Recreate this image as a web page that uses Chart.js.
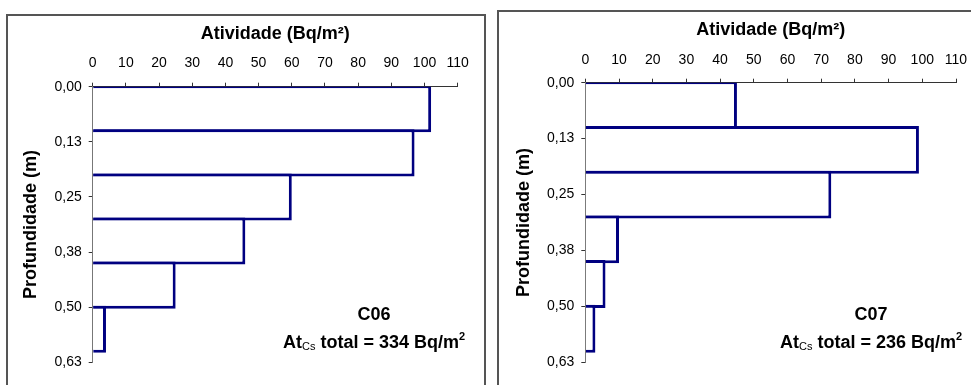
<!DOCTYPE html>
<html>
<head>
<meta charset="utf-8">
<script src="https://cdn.jsdelivr.net/npm/chart.js@4.4.1/dist/chart.umd.min.js"></script>
<style>
  html, body { margin: 0; padding: 0; background: #fff; width: 971px; height: 385px; overflow: hidden; }
  .panel { position: absolute; border: 2px solid #555; overflow: hidden; background: #fff; }
  .panel canvas { display: block; }
  .note { position: absolute; width: 300px; text-align: center; white-space: nowrap;
          font-family: "Liberation Sans", Arial, sans-serif; font-weight: bold;
          font-size: 18px; line-height: 20px; color: #000; }
  .note .sub { font-size: 11px; font-weight: normal; position: relative; top: 2px; }
  .note .sup { font-size: 11px; position: relative; top: -8px; }
</style>
</head>
<body>
<div class="panel" style="left:6px; top:14px; width:476px; height:380px;">
  <canvas id="c06" width="476" height="380"></canvas>
</div>
<div class="panel" style="left:497px; top:10px; width:490px; height:380px;">
  <canvas id="c07" width="490" height="380"></canvas>
</div>

<div class="note" style="left:224px; top:304px;">C06</div>
<div class="note" style="left:224px; top:332px;">At<span class="sub">Cs</span> total = 334 Bq/m<span class="sup">2</span></div>
<div class="note" style="left:721px; top:304px;">C07</div>
<div class="note" style="left:721px; top:332px;">At<span class="sub">Cs</span> total = 236 Bq/m<span class="sup">2</span></div>

<script>
// Soil layers (depth in m) sampled in each core
const layerTop    = [0.0, 0.1, 0.2, 0.3, 0.4, 0.5];
const layerBottom = [0.1, 0.2, 0.3, 0.4, 0.5, 0.6];

// 137Cs activity per layer (Bq/m²)
const activityC06 = [102, 97, 60, 46, 25, 4];
const activityC07 = [45, 99, 73, 10, 6, 3];

// Axis ticks
const depthTicks = [0, 0.125, 0.25, 0.375, 0.5, 0.625];
const depthTickLabels = ['0,00', '0,13', '0,25', '0,38', '0,50', '0,63'];
const activityTicks = [0, 10, 20, 30, 40, 50, 60, 70, 80, 90, 100, 110];

const FONT = '"Liberation Sans", Arial, sans-serif';
const NAVY = '#000080';

function profileChart(canvasId, values, g) {
  return new Chart(document.getElementById(canvasId), {
    type: 'bar',
    data: {
      datasets: [{
        data: values.map((v, i) => ({ x: v, y: (layerTop[i] + layerBottom[i]) / 2 })),
        backgroundColor: '#ffffff',
        borderColor: NAVY,
        borderWidth: 3,
        borderSkipped: 'start',
        // bars overlap by half a border so neighbouring outlines merge into one line
        barPercentage: 1.068,
        categoryPercentage: 1,
        clip: 0
      }]
    },
    options: {
      indexAxis: 'y',
      responsive: false,
      animation: false,
      events: [],
      layout: { padding: { left: 0, top: 0, right: g.padRight, bottom: g.padBottom } },
      plugins: { legend: { display: false }, tooltip: { enabled: false }, title: { display: false } },
      scales: {
        x: {
          type: 'linear',
          position: 'top',
          min: 0,
          max: 110,
          afterBuildTicks: (s) => { s.ticks = activityTicks.map(v => ({ value: v })); },
          afterFit: (s) => { s.height = g.top; },
          ticks: {
            autoSkip: false, maxRotation: 0, color: '#000', padding: g.xTickPad,
            font: { family: FONT, size: 14 },
            callback: (v, i) => String(activityTicks[i])
          },
          grid: { drawOnChartArea: false, drawTicks: true, tickLength: 4, color: '#333', lineWidth: 1 },
          border: { display: true, color: '#333', width: 1 },
          title: {
            display: true, text: 'Atividade (Bq/m²)', color: '#000',
            font: { family: FONT, size: 18, weight: 'bold' },
            padding: { top: g.xTitlePad, bottom: 0 }
          }
        },
        y: {
          type: 'linear',
          position: 'left',
          reverse: true,
          offset: false,
          min: 0,
          max: 0.625,
          z: 1,
          afterBuildTicks: (s) => { s.ticks = depthTicks.map(v => ({ value: v })); },
          afterFit: (s) => { s.width = g.left; },
          ticks: {
            autoSkip: false, color: '#000', padding: 7,
            font: { family: FONT, size: 14 },
            callback: (v, i) => depthTickLabels[i]
          },
          grid: { offset: false, drawOnChartArea: false, drawTicks: true, tickLength: 4, color: '#333', lineWidth: 1 },
          border: { display: true, color: '#777', width: 1 },
          title: {
            display: true, text: 'Profundidade (m)', color: '#000',
            font: { family: FONT, size: 18, weight: 'bold' },
            padding: { top: g.yTitlePad, bottom: 0 }
          }
        }
      }
    }
  });
}

profileChart('c06', activityC06, {
  left: 84.7, top: 70.7, padRight: 26.3, padBottom: 33.7,
  xTickPad: 11, xTitlePad: 7.7, yTitlePad: 12.7
});
profileChart('c07', activityC07, {
  left: 86.3, top: 70.7, padRight: 33, padBottom: 29.7,
  xTickPad: 10.4, xTitlePad: 7.5, yTitlePad: 14.2
});
</script>
</body>
</html>
